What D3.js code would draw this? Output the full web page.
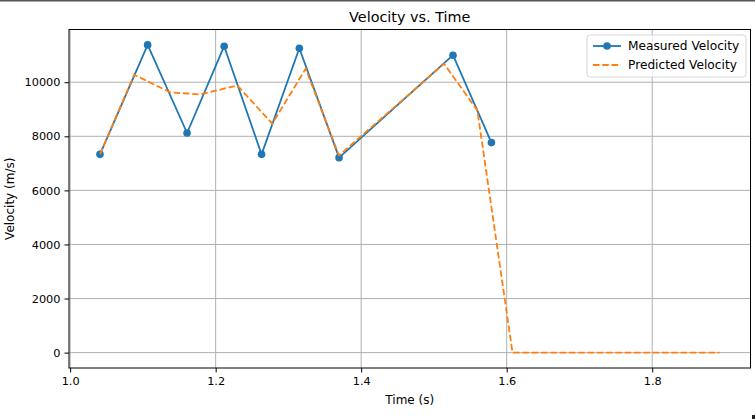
<!DOCTYPE html>
<html>
<head>
<meta charset="utf-8">
<script src="https://cdn.jsdelivr.net/npm/d3@7"></script>
<style>
  html, body { margin: 0; padding: 0; background: #fff; }
  svg { display: block; font-family: "DejaVu Sans", sans-serif; }
</style>
</head>
<body>
<svg id="chart" width="755" height="419"></svg>
<script>
// ---- data ----
const measuredTime = [1.041, 1.1065, 1.1607, 1.2117, 1.2631, 1.315, 1.3696, 1.5262, 1.579];
const measuredVelocity = [7333, 11381, 8122, 11333, 7333, 11259, 7211, 11000, 7767];
const predictedTime = [1.041, 1.088, 1.1377, 1.179, 1.2297, 1.2778, 1.3237, 1.3695, 1.5139, 1.5597, 1.608, 1.8925];
const predictedVelocity = [7333, 10277, 9623, 9549, 9882, 8466, 10499, 7290, 10684, 8957, 0, 0];
const xTicks = [1.0, 1.2, 1.4, 1.6, 1.8];
const yTicks = [0, 2000, 4000, 6000, 8000, 10000];
const seriesNames = ["Measured Velocity", "Predicted Velocity"];
const titleText = "Velocity vs. Time";
const xLabelText = "Time (s)";
const yLabelText = "Velocity (m/s)";

const blue = "#1f77b4", orange = "#ff7f0e";
const svg = d3.select("#chart");
const L = 69, R = 750.5, T = 29.5, B = 368;

// matplotlib-like 5% margins
const allT = measuredTime.concat(predictedTime);
const allV = measuredVelocity.concat(predictedVelocity);
const [t0, t1] = d3.extent(allT), [v0, v1] = d3.extent(allV);
const mt = (t1 - t0) * 0.05, mv = (v1 - v0) * 0.05;
const x = d3.scaleLinear().domain([t0 - mt, t1 + mt]).range([L, R]);
const y = d3.scaleLinear().domain([v0 - mv, v1 + mv]).range([B, T]);

// top artifact line
svg.append("rect").attr("x", 0).attr("y", 0).attr("width", 755).attr("height", 1.5).attr("fill", "#555");
svg.append("rect").attr("x", 752).attr("y", 415).attr("width", 3).attr("height", 4).attr("fill", "#222");

// grid
const grid = svg.append("g");
grid.selectAll(".gx").data(xTicks).join("line")
  .attr("x1", d => x(d)).attr("x2", d => x(d)).attr("y1", T).attr("y2", B)
  .attr("stroke", "#b0b0b0").attr("stroke-width", 1);
grid.selectAll(".gy").data(yTicks).join("line")
  .attr("y1", d => y(d)).attr("y2", d => y(d)).attr("x1", L).attr("x2", R)
  .attr("stroke", "#b0b0b0").attr("stroke-width", 1);

// axes
const xAxis = d3.axisBottom(x).tickValues(xTicks).tickFormat(d3.format(".1f")).tickSize(4.5).tickPadding(4);
const yAxis = d3.axisLeft(y).tickValues(yTicks).tickFormat(d3.format("d")).tickSize(4.5).tickPadding(4);
const gx = svg.append("g").attr("transform", `translate(0,${B})`).call(xAxis);
const gy = svg.append("g").attr("transform", `translate(${L},0)`).call(yAxis);
[gx, gy].forEach(g => {
  g.select(".domain").remove();
  g.selectAll("line").attr("stroke", "#000").attr("stroke-width", 1);
  g.selectAll("text").attr("font-size", 11.3).attr("fill", "#000").attr("font-family", "DejaVu Sans");
});

// lines
const lineGen = d3.line().x(d => x(d[0])).y(d => y(d[1]));
const measured = measuredTime.map((t, i) => [t, measuredVelocity[i]]);
const predicted = predictedTime.map((t, i) => [t, predictedVelocity[i]]);

const clip = svg.append("clipPath").attr("id", "clip").append("rect")
  .attr("x", L).attr("y", T).attr("width", R - L).attr("height", B - T);
const plot = svg.append("g").attr("clip-path", "url(#clip)");

plot.append("path").datum(measured).attr("d", lineGen)
  .attr("fill", "none").attr("stroke", blue).attr("stroke-width", 1.8).attr("stroke-linejoin", "round");
plot.selectAll(".pt").data(measured).join("circle")
  .attr("cx", d => x(d[0])).attr("cy", d => y(d[1])).attr("r", 3.8).attr("fill", blue);
plot.append("path").datum(predicted).attr("d", lineGen)
  .attr("fill", "none").attr("stroke", orange).attr("stroke-width", 1.8)
  .attr("stroke-dasharray", "6.5,2.8");

// frame
svg.append("rect").attr("x", L).attr("y", T).attr("width", R - L).attr("height", B - T)
  .attr("fill", "none").attr("stroke", "#000").attr("stroke-width", 1);

// title & labels
svg.append("text").attr("x", (L + R) / 2).attr("y", 22).attr("text-anchor", "middle")
  .attr("font-size", 14.4).text(titleText);
svg.append("text").attr("x", (L + R) / 2).attr("y", 404).attr("text-anchor", "middle")
  .attr("font-size", 12).text(xLabelText);
svg.append("text").attr("transform", `translate(14,${(T + B) / 2}) rotate(-90)`).attr("text-anchor", "middle")
  .attr("font-size", 12).text(yLabelText);

// legend
const lg = svg.append("g").attr("transform", "translate(587,35)");
lg.append("rect").attr("x", 0).attr("y", 0).attr("width", 159).attr("height", 42).attr("rx", 3)
  .attr("fill", "#fff").attr("fill-opacity", 0.8).attr("stroke", "#d6d6d6").attr("stroke-width", 1);
const rows = [
  { name: seriesNames[0], color: blue, dash: null, marker: true },
  { name: seriesNames[1], color: orange, dash: "6.5,2.8", marker: false }
];
rows.forEach((r, i) => {
  const yy = 11 + i * 19;
  lg.append("line").attr("x1", 6).attr("x2", 34).attr("y1", yy).attr("y2", yy)
    .attr("stroke", r.color).attr("stroke-width", 1.8).attr("stroke-dasharray", r.dash);
  if (r.marker) lg.append("circle").attr("cx", 20).attr("cy", yy).attr("r", 3.8).attr("fill", r.color);
  lg.append("text").attr("x", 41).attr("y", yy + 4.3).attr("font-size", 12.2).text(r.name);
});
</script>
</body>
</html>
